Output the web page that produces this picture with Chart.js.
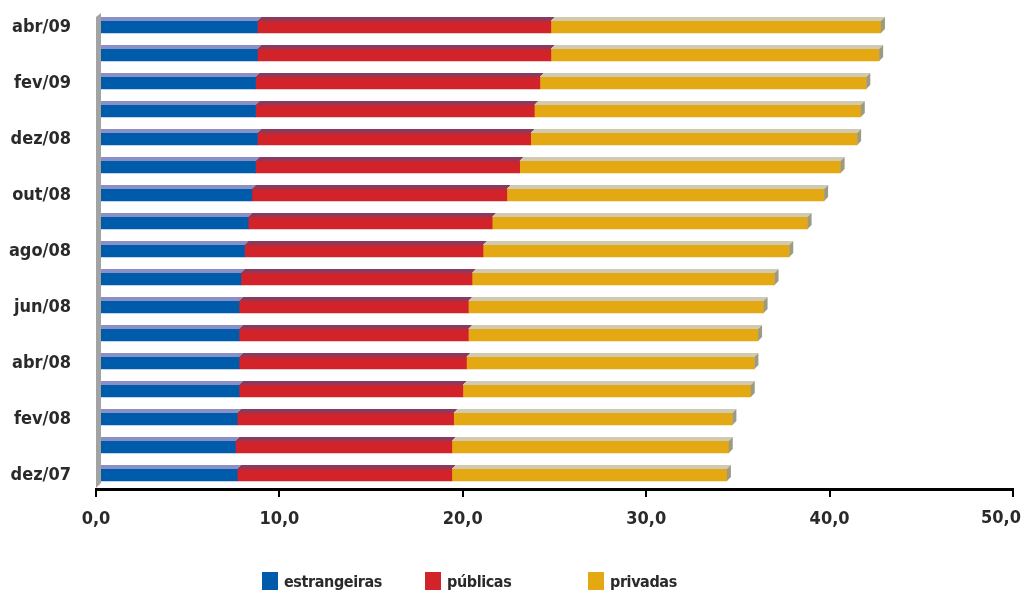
<!DOCTYPE html>
<html>
<head>
<meta charset="utf-8">
<title>Participação no crédito</title>
<script src="https://cdn.jsdelivr.net/npm/chart.js@4.4.1/dist/chart.umd.min.js"></script>
<style>
  html, body { margin: 0; padding: 0; background: #fff; }
  #wrap { position: relative; width: 1022px; height: 594px; }
  #legend { position: absolute; top: 572px; left: 0; width: 1022px; height: 22px;
            font-family: "Liberation Sans Narrow", "DejaVu Sans Condensed", sans-serif;
            font-weight: bold; font-size: 16px; letter-spacing: -0.4px; color: #2a2a2a; }
  #legend span.item { position: absolute; top: 0; line-height: 20px; white-space: nowrap; }
  #legend span.box { display: inline-block; width: 16px; height: 18px; vertical-align: top; margin-right: 6px; }
</style>
</head>
<body>
<div id="wrap">
  <canvas id="chart" width="1022" height="594"></canvas>
  <div id="legend"></div>
</div>
<script>
// months, top to bottom
const months = ["abr/09","mar/09","fev/09","jan/09","dez/08","nov/08","out/08","set/08",
                "ago/08","jul/08","jun/08","mai/08","abr/08","mar/08","fev/08","jan/08","dez/07"];

const estrangeiras = [8.8, 8.8, 8.7, 8.7, 8.8, 8.7, 8.5, 8.3, 8.1, 7.9, 7.8, 7.8, 7.8, 7.8, 7.7, 7.6, 7.7];
const publicas     = [16.0, 16.0, 15.5, 15.2, 14.9, 14.4, 13.9, 13.3, 13.0, 12.6, 12.5, 12.5, 12.4, 12.2, 11.8, 11.8, 11.7];
const privadas     = [18.0, 17.9, 17.8, 17.8, 17.8, 17.5, 17.3, 17.2, 16.7, 16.5, 16.1, 15.8, 15.7, 15.7, 15.2, 15.1, 15.0];

const xTicks = [0, 10, 20, 30, 40, 50];

const seriesNames  = ["estrangeiras", "públicas", "privadas"];
const seriesColors = ["#005baa", "#d2232a", "#e3a812"];
const topColors    = ["#8a8fc6", "#8a3a5c", "#cfcab0"];
const legendX      = [262, 425, 588];

const fmt = v => v.toFixed(1).replace(".", ",");
const font = { family: "'Liberation Sans Narrow', 'DejaVu Sans Condensed', sans-serif", size: 18, weight: "bold" };

// fake 3D top strip + end cap like the original
const bars3d = {
  id: "bars3d",
  afterDatasetsDraw(chart) {
    const ctx = chart.ctx, d = 4;
    ctx.save();
    chart.data.datasets.forEach((ds, i) => {
      const meta = chart.getDatasetMeta(i);
      meta.data.forEach(bar => {
        const top = bar.y - bar.height / 2, bottom = bar.y + bar.height / 2;
        ctx.fillStyle = topColors[i];
        ctx.beginPath();
        ctx.moveTo(bar.base, top);
        ctx.lineTo(bar.base + d, top - d);
        ctx.lineTo(bar.x + d, top - d);
        ctx.lineTo(bar.x, top);
        ctx.closePath();
        ctx.fill();
        if (i === chart.data.datasets.length - 1) {
          ctx.fillStyle = "#9c9a80";
          ctx.beginPath();
          ctx.moveTo(bar.x, top);
          ctx.lineTo(bar.x + d, top - d);
          ctx.lineTo(bar.x + d, bottom - d);
          ctx.lineTo(bar.x, bottom);
          ctx.closePath();
          ctx.fill();
        }
      });
    });
    // grey wall on the left
    const area = chart.chartArea;
    ctx.fillStyle = "#a3a3a3";
    ctx.beginPath();
    ctx.moveTo(area.left, area.top + 4);
    ctx.lineTo(area.left + 5, area.top);
    ctx.lineTo(area.left + 5, area.bottom - 6);
    ctx.lineTo(area.left, area.bottom - 1);
    ctx.closePath();
    ctx.fill();
    ctx.restore();
  },
  // last x label would be cut by the canvas edge, so it is pulled inside
  afterDraw(chart) {
    const x = chart.scales.x, ctx = chart.ctx;
    const last = xTicks[xTicks.length - 1];
    ctx.save();
    ctx.font = "bold 18px " + font.family;
    ctx.fillStyle = "#2a2a2a";
    ctx.textAlign = "right";
    ctx.textBaseline = "middle";
    ctx.fillText(fmt(last), Math.min(x.getPixelForValue(last) + 20, chart.width - 1), x.top + 29);
    ctx.restore();
  }
};

new Chart(document.getElementById("chart"), {
  type: "bar",
  data: {
    labels: months,
    datasets: [
      { label: seriesNames[0], data: estrangeiras, backgroundColor: seriesColors[0] },
      { label: seriesNames[1], data: publicas,     backgroundColor: seriesColors[1] },
      { label: seriesNames[2], data: privadas,     backgroundColor: seriesColors[2] }
    ]
  },
  options: {
    indexAxis: "y",
    responsive: false,
    animation: false,
    layout: { padding: { top: 13, right: 9, bottom: 58, left: 0 } },
    datasets: { bar: { barThickness: 12 } },
    plugins: { legend: { display: false }, tooltip: { enabled: false } },
    scales: {
      x: {
        stacked: true,
        min: 0, max: 50,
        afterBuildTicks: s => { s.ticks = xTicks.map(v => ({ value: v })); },
        afterFit: s => { s.height = 47; s.paddingLeft = 0; s.paddingRight = 0; },
        grid: { drawOnChartArea: false, drawTicks: true, tickLength: 8, color: "#000", lineWidth: 2 },
        border: { color: "#000", width: 3 },
        ticks: { color: "#2a2a2a", font: font, padding: 12,
                 callback: v => v === xTicks[xTicks.length - 1] ? "" : fmt(v) }
      },
      y: {
        stacked: true,
        afterFit: s => { s.width = 96; s.paddingTop = 0; s.paddingBottom = 0; },
        grid: { display: false },
        border: { display: false },
        ticks: { color: "#2a2a2a", font: font, padding: 17, autoSkip: false,
                 callback: (v, i) => i % 2 === 0 ? months[i] : "" }
      }
    }
  },
  plugins: [bars3d]
});

// legend
const leg = document.getElementById("legend");
seriesNames.forEach((n, i) => {
  const it = document.createElement("span");
  it.className = "item";
  it.style.left = legendX[i] + "px";
  it.innerHTML = '<span class="box" style="background:' + seriesColors[i] + '"></span>' + n;
  leg.appendChild(it);
});
</script>
</body>
</html>
